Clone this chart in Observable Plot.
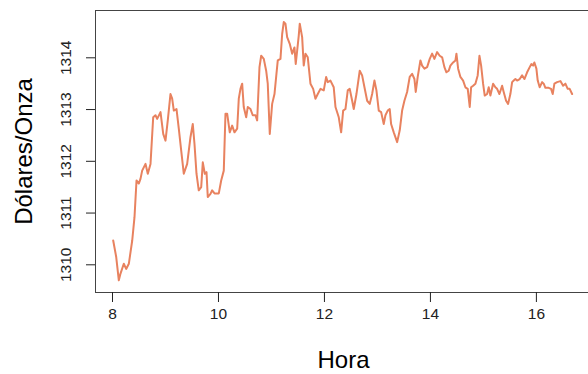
<!DOCTYPE html>
<html>
<head>
<meta charset="utf-8">
<script src="https://cdn.jsdelivr.net/npm/d3@7"></script>
<script src="https://cdn.jsdelivr.net/npm/@observablehq/plot@0.6"></script>
<style>
  html, body { margin: 0; padding: 0; background: white; overflow: hidden; }
</style>
</head>
<body>
<div id="chart"></div>
<script>
const hora = [8.013,8.07,8.119,8.151,8.213,8.258,8.308,8.372,8.415,8.453,8.496,8.528,8.56,8.623,8.666,8.717,8.768,8.811,8.843,8.906,8.957,9.0,9.043,9.094,9.126,9.157,9.208,9.251,9.296,9.345,9.409,9.472,9.515,9.547,9.585,9.628,9.674,9.704,9.742,9.774,9.798,9.849,9.881,9.925,10.006,10.051,10.1,10.132,10.164,10.213,10.258,10.302,10.353,10.383,10.415,10.447,10.477,10.523,10.553,10.604,10.647,10.698,10.73,10.774,10.806,10.855,10.9,10.93,10.968,11.013,11.057,11.094,11.119,11.17,11.202,11.232,11.264,11.296,11.345,11.391,11.434,11.458,11.485,11.515,11.534,11.579,11.609,11.642,11.685,11.704,11.736,11.787,11.83,11.874,11.925,11.987,12.032,12.062,12.113,12.175,12.208,12.27,12.315,12.353,12.396,12.44,12.477,12.523,12.553,12.604,12.666,12.711,12.755,12.806,12.855,12.9,12.943,12.981,13.025,13.07,13.119,13.151,13.194,13.232,13.258,13.308,13.372,13.421,13.466,13.509,13.56,13.609,13.655,13.698,13.723,13.76,13.811,13.843,13.887,13.938,13.987,14.032,14.075,14.126,14.175,14.221,14.264,14.302,14.345,14.377,14.428,14.472,14.491,14.523,14.566,14.617,14.66,14.704,14.742,14.768,14.806,14.849,14.892,14.925,14.957,14.994,15.025,15.07,15.1,15.132,15.183,15.226,15.258,15.302,15.353,15.383,15.428,15.466,15.509,15.542,15.572,15.604,15.636,15.685,15.73,15.774,15.825,15.874,15.906,15.938,15.962,16.0,16.025,16.062,16.108,16.138,16.17,16.232,16.277,16.308,16.34,16.391,16.453,16.504,16.547,16.591,16.628,16.674];
const precio = [1310.47,1310.15,1309.70,1309.83,1310.02,1309.92,1310.02,1310.47,1310.92,1311.63,1311.57,1311.66,1311.82,1311.95,1311.76,1311.95,1312.85,1312.89,1312.82,1312.95,1312.53,1312.40,1312.79,1313.30,1313.21,1312.98,1313.01,1312.63,1312.21,1311.76,1311.95,1312.47,1312.72,1312.34,1311.76,1311.44,1311.50,1311.98,1311.76,1311.79,1311.31,1311.37,1311.44,1311.38,1311.38,1311.63,1311.82,1312.92,1312.92,1312.56,1312.69,1312.56,1312.63,1313.21,1313.40,1313.50,1313.05,1312.85,1313.05,1313.01,1312.89,1312.89,1312.79,1313.82,1314.04,1313.98,1313.75,1313.50,1312.53,1313.11,1313.30,1313.69,1313.95,1313.98,1314.46,1314.69,1314.66,1314.40,1314.27,1314.08,1314.20,1313.88,1314.14,1314.43,1314.66,1314.40,1313.85,1314.08,1314.01,1313.82,1313.50,1313.40,1313.21,1313.30,1313.40,1313.37,1313.63,1313.53,1313.56,1313.43,1313.05,1312.85,1312.56,1312.98,1313.01,1313.37,1313.40,1313.17,1313.01,1313.30,1313.75,1313.66,1313.43,1313.17,1313.11,1313.30,1313.56,1313.37,1312.98,1312.95,1312.72,1312.89,1312.98,1313.01,1312.72,1312.56,1312.37,1312.60,1312.98,1313.17,1313.34,1313.63,1313.69,1313.59,1313.34,1313.63,1313.95,1313.85,1313.79,1313.82,1313.98,1314.08,1313.98,1314.11,1314.04,1314.01,1313.82,1313.72,1313.75,1313.85,1313.91,1313.95,1314.08,1313.79,1313.63,1313.56,1313.43,1313.40,1313.05,1313.43,1313.46,1313.50,1313.66,1314.04,1313.85,1313.50,1313.27,1313.30,1313.43,1313.27,1313.50,1313.43,1313.40,1313.30,1313.46,1313.34,1313.17,1313.11,1313.30,1313.53,1313.56,1313.59,1313.56,1313.59,1313.66,1313.59,1313.72,1313.82,1313.88,1313.85,1313.91,1313.79,1313.56,1313.43,1313.53,1313.50,1313.42,1313.42,1313.40,1313.30,1313.50,1313.53,1313.55,1313.46,1313.50,1313.40,1313.40,1313.30];
const xTicks = [8, 10, 12, 14, 16];
const yTicks = [1310, 1311, 1312, 1313, 1314];
const xLabel = "Hora";
const yLabel = "Dólares/Onza";

const data = hora.map((h, i) => ({hora: h, precio: precio[i]}));
const font = "'Liberation Sans', Arial, sans-serif";

const chart = Plot.plot({
  width: 588,
  height: 374,
  marginTop: 10,
  marginBottom: 82,
  marginLeft: 95,
  marginRight: -3,
  style: {fontFamily: font, background: "white", color: "#000", overflow: "visible"},
  x: {domain: [7.679, 17.04]},
  y: {domain: [1309.465, 1314.914]},
  marks: [
    Plot.frame({stroke: "#444", strokeWidth: 1}),
    Plot.axisX({ticks: xTicks, tickSize: 10, tickPadding: 5, fontSize: 15.5, label: null, tickFormat: d => String(d), stroke: "#222", color: "#222"}),
    Plot.axisY({ticks: yTicks, tickSize: 9, tickFormat: () => "", label: null, stroke: "#222"}),
    Plot.text(yTicks, {y: d => d, text: d => String(d), frameAnchor: "left", dx: -29.3, rotate: -90, textAnchor: "middle", lineAnchor: "middle", fontSize: 15.5, fill: "#222"}),
    Plot.line(data, {x: "hora", y: "precio", stroke: "#E8825F", strokeWidth: 2}),
    Plot.text([xLabel], {frameAnchor: "bottom", dy: 68, text: d => d, fontSize: 24, lineAnchor: "middle", fill: "#000"}),
    Plot.text([yLabel], {frameAnchor: "left", dx: -71, rotate: -90, text: d => d, fontSize: 24, lineAnchor: "middle", textAnchor: "middle", fill: "#000"})
  ]
});
document.getElementById("chart").appendChild(chart);
</script>
</body>
</html>
